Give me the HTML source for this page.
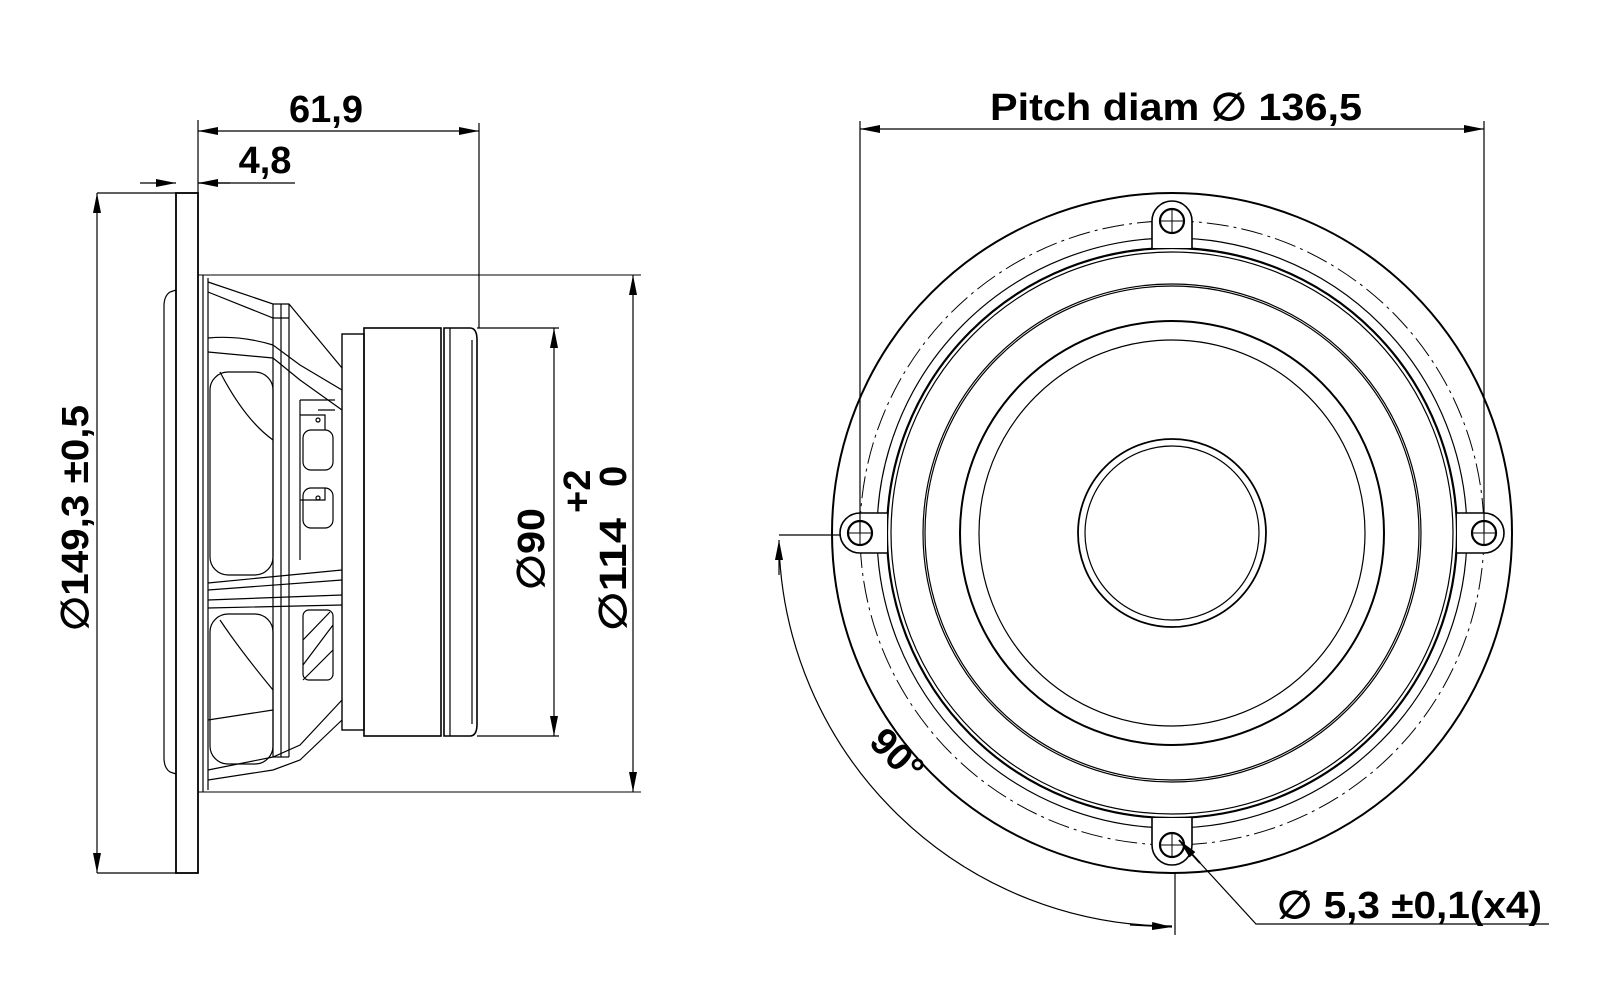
<!DOCTYPE html>
<html><head><meta charset="utf-8"><style>
html,body{margin:0;padding:0;background:#fff;}
svg{display:block;}
text{font-family:"Liberation Sans",sans-serif;font-weight:bold;fill:#000;}
</style></head><body>
<svg width="1600" height="1000" viewBox="0 0 1600 1000" xmlns="http://www.w3.org/2000/svg">
<defs>
<marker id="ar" viewBox="0 0 20 8" refX="20" refY="4" markerWidth="20" markerHeight="8" markerUnits="userSpaceOnUse" orient="auto-start-reverse"><path d="M0,0 L20,4 L0,8 z" fill="#000"/></marker>
<g id="tab"><path d="M-20,-285 L-20,-312 A20,20 0 0 1 20,-312 L20,-285" fill="#fff" stroke="#000" stroke-width="1.6"/><circle cx="0" cy="-312" r="12" fill="none" stroke="#000" stroke-width="2.2"/><path d="M-12,-312 H12 M0,-324 V-300" stroke="#000" stroke-width="1"/></g>
</defs>
<g fill="none" stroke="#000" stroke-width="1.2">
<rect x="176" y="193" width="22" height="680" stroke-width="1.8"/>
<path d="M176,290 L170,292 Q164,296 164,306 L164,758 Q164,768 170,772 L176,774"/>
<path d="M198,275 H641 M198,792 H641" stroke-width="1"/>
<path d="M203,275 V792 M208,278 V790"/>
<path d="M208,282 L273,304 L289,304 L342,368"/>
<path d="M208,292 L273,318 L289,318 M273,304 V757 M289,304 V757 M281,304 V757"/>
<path d="M208,338 Q240,335 273,345 L300,365 L342,390"/>
<path d="M208,352 L273,358 L300,380 L342,410"/>
<rect x="210" y="372" width="63" height="203" rx="18"/>
<path d="M220,372 Q245,420 273,440"/>
<path d="M208,583 L342,570 M208,590 L342,580 M208,600 L342,595 M208,608 L342,605"/>
<rect x="210" y="614" width="63" height="150" rx="18"/>
<path d="M220,620 Q240,650 273,690"/>
<path d="M208,720 L273,710 M208,770 L273,757 L300,745 L342,700"/>
<path d="M208,780 L273,770 L300,760 L342,720"/>
<path d="M273,757 H289"/>
<path d="M300,400 H335 M300,400 V560 M318,410 H335"/>
<rect x="303" y="430" width="30" height="40" rx="8"/>
<rect x="303" y="488" width="30" height="40" rx="8"/>
<path d="M300,415 H325 V430 M300,500 H325 V488"/>
<circle cx="318" cy="420" r="2"/><circle cx="318" cy="498" r="2"/>
<rect x="303" y="610" width="30" height="70" rx="6"/>
<path d="M303,640 L330,612 M303,665 L333,625 M303,680 L333,650"/>
<rect x="342" y="334" width="22" height="396" stroke-width="1.4"/>
<rect x="364" y="328" width="77" height="408" stroke-width="1.6"/>
<path d="M444,328 H470 Q477,328 477,340 V724 Q477,736 470,736 H444 Z" stroke-width="1.6"/>
<path d="M450,328 V736 M472,340 V724"/>
<path d="M198,131 H479" marker-start="url(#ar)" marker-end="url(#ar)"/>
<path d="M479,123 V328 M198,120 V193 M97,193 H176 M97,873 H176 M477,328 H559 M477,736 H559"/>
<path d="M198,183 H295"/>
<path d="M140,183 H176" marker-end="url(#ar)"/>
<path d="M230,183 H198" marker-end="url(#ar)"/>
<path d="M97,533 V193" marker-end="url(#ar)"/><path d="M97,533 V873" marker-end="url(#ar)"/>
<path d="M633,533 V275" marker-end="url(#ar)"/><path d="M633,533 V792" marker-end="url(#ar)"/>
<path d="M554,533 V328" marker-end="url(#ar)"/><path d="M554,533 V736" marker-end="url(#ar)"/>
<circle cx="1172" cy="533" r="340" stroke-width="2"/>
<circle cx="1172" cy="533" r="312" stroke-dasharray="22,5,3,5" stroke-width="1"/>
<circle cx="1172" cy="533" r="295"/>
<circle cx="1172" cy="533" r="285" stroke-width="2.2"/>
<circle cx="1172" cy="533" r="281"/>
<circle cx="1172" cy="533" r="249"/>
<circle cx="1172" cy="533" r="247"/>
<circle cx="1172" cy="533" r="212" stroke-width="2"/>
<circle cx="1172" cy="533" r="193"/>
<circle cx="1172" cy="533" r="94" stroke-width="1.8"/>
<circle cx="1172" cy="533" r="87"/>
</g>
<g transform="translate(1172,533)"><use href="#tab"/><use href="#tab" transform="rotate(90)"/><use href="#tab" transform="rotate(180)"/><use href="#tab" transform="rotate(270)"/></g>
<g fill="none" stroke="#000" stroke-width="1.2">
<path d="M860,129 H1484" marker-start="url(#ar)" marker-end="url(#ar)"/>
<path d="M860,121 V532 M1484,121 V532"/>
<path d="M779,535 H840 M1175,872 V935"/>
<path d="M779,545 A393,393 0 0 0 1172,926"/>
<path d="M779,575 L779,540" marker-end="url(#ar)"/>
<path d="M1130,925 L1172,927" marker-end="url(#ar)"/>
<path d="M1549,924 H1256 L1190,852"/>
<path d="M1200,863 L1179,840" marker-end="url(#ar)" stroke-width="2"/>
</g>
<g font-size="38">
<text x="326" y="122" text-anchor="middle">61,9</text>
<text x="265" y="173" text-anchor="middle">4,8</text>
<text x="990" y="120" textLength="372" lengthAdjust="spacingAndGlyphs">Pitch diam ∅ 136,5</text>
<text x="1277" y="918" textLength="265" lengthAdjust="spacingAndGlyphs">∅ 5,3 ±0,1(x4)</text>
<text transform="translate(88,631) rotate(-90)" textLength="226" lengthAdjust="spacingAndGlyphs">∅149,3 ±0,5</text>
<text transform="translate(626,631) rotate(-90)" textLength="113" lengthAdjust="spacingAndGlyphs">∅114</text>
<text transform="translate(626,487) rotate(-90)">0</text>
<text transform="translate(590,513) rotate(-90)">+2</text>
<text transform="translate(544,590) rotate(-90)" textLength="82" lengthAdjust="spacingAndGlyphs">∅90</text>
<text transform="translate(888,764) rotate(45)" text-anchor="middle">90°</text>
</g>
</svg>
</body></html>
